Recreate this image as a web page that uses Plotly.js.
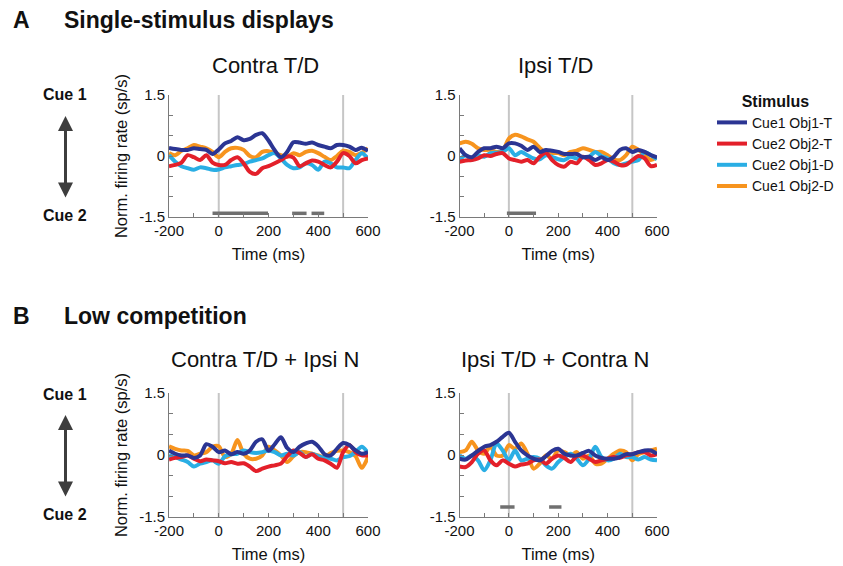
<!DOCTYPE html>
<html>
<head>
<meta charset="utf-8">
<script src="https://cdn.plot.ly/plotly-3.0.1.min.js"></script>
<style>html,body{margin:0;padding:0;background:#fff;}#chart{width:843px;height:566px;}</style>
</head>
<body>
<div id="chart"></div>
<script>
// ---------- data ----------
const time = [-200,-175,-150,-125,-100,-75,-50,-25,0,25,50,75,100,125,150,175,200,225,250,275,300,325,350,375,400,425,450,475,500,525,550,575,600];

const seriesNames = ["Cue1 Obj1-T","Cue2 Obj2-T","Cue2 Obj1-D","Cue1 Obj2-D"];
const panelTitles = ["Contra T/D","Ipsi T/D","Contra T/D + Ipsi N","Ipsi T/D + Contra N"];
const xTickVals = [-200,-100,0,100,200,300,400,500,600];
const xTickText = ["-200","","0","","200","","400","","600"];
const yTickVals = [-1.5,-1,-0.5,0,0.5,1,1.5];
const yTickText = ["-1.5","","","0","","","1.5"];
const eventTimes = [0,500];

// Panel A, Contra T/D
const a1_obj1T = [0.2,0.17,0.15,0.15,0.19,0.17,0.15,0.05,0.16,0.31,0.37,0.46,0.39,0.42,0.52,0.56,0.38,0.14,-0.03,0.1,0.34,0.33,0.3,0.33,0.27,0.23,0.19,0.27,0.27,0.23,0.15,0.2,0.13];
const a1_obj2T = [-0.25,-0.22,-0.16,0.02,-0.03,-0.1,0.02,-0.16,-0.22,-0.22,-0.1,-0.03,-0.18,-0.39,-0.44,-0.3,-0.25,-0.18,-0.1,-0.01,-0.04,-0.25,-0.18,-0.11,-0.14,-0.22,-0.28,-0.14,0.07,0,-0.18,-0.1,-0.06];
const a1_obj1D = [0.02,-0.14,-0.25,-0.3,-0.34,-0.28,-0.3,-0.34,-0.33,-0.28,-0.25,-0.22,-0.2,-0.14,-0.1,-0.06,0.02,0.07,-0.06,-0.22,-0.3,-0.28,-0.18,-0.22,-0.34,-0.14,-0.18,-0.28,-0.28,-0.3,-0.1,0.07,-0.06];
const a1_obj2D = [0.07,0.02,0.13,0.19,0.27,0.23,0.19,0.1,-0.03,0.1,0.19,0.2,0.15,0,-0.03,0.1,0.12,0.07,0.02,-0.02,0.07,0.02,0.1,0.13,0.07,-0.02,-0.1,0,0.13,0.1,0.02,0.08,0.19];

// Panel A, Ipsi T/D
const a2_obj1T = [0.19,0.02,-0.03,0.1,0.19,0.19,0.23,0.19,0.31,0.31,0.25,0.15,0.23,0.1,0.15,0.13,0.1,0.05,0.05,0.05,-0.03,-0.02,-0.1,-0.03,-0.1,-0.02,0.15,0.19,0.1,0.15,0.1,0.02,-0.03];
const a2_obj2T = [-0.14,-0.11,-0.1,-0.06,0.02,0,0.05,0.07,-0.06,-0.1,-0.14,-0.1,-0.18,-0.02,0.08,-0.1,-0.22,-0.26,-0.14,-0.18,-0.02,-0.1,-0.22,-0.18,-0.1,-0.14,-0.22,-0.22,-0.1,0,-0.06,-0.25,-0.22];
const a2_obj1D = [-0.1,0.02,-0.1,0.02,-0.02,0.07,0.08,0.1,0.19,0.02,0.1,0.02,-0.06,-0.08,0.02,-0.02,-0.08,-0.1,-0.02,-0.06,-0.03,-0.02,0.1,0,-0.06,-0.18,-0.22,-0.18,-0.14,-0.1,0.1,0.02,-0.08];
const a2_obj2D = [0.31,0.35,0.3,0.19,0.15,0.15,0.1,0.13,0.43,0.52,0.48,0.41,0.35,0.2,0.07,0.07,0.07,0.02,0.1,0.13,0.19,0.15,0.1,0.1,0.02,-0.08,-0.1,0.02,0.23,0.15,0.02,-0.1,-0.03];

// Panel B, Contra T/D + Ipsi N
const b1_obj1T = [0.11,0.03,-0.01,-0.01,-0.07,-0.01,0.26,0.2,0.07,0.11,0.02,0.07,0.03,0.11,0.32,0.38,0.1,0.26,0.43,0.17,0.07,0.2,0.28,0.32,0.21,0.02,-0.01,0.15,0.29,0.24,0.11,0.03,0.07];
const b1_obj2T = [-0.11,-0.07,-0.05,-0.01,-0.09,-0.15,-0.11,-0.13,-0.15,-0.2,-0.17,-0.21,-0.2,-0.28,-0.39,-0.33,-0.28,-0.25,-0.21,-0.03,0.11,0.05,-0.05,0.02,-0.09,-0.13,-0.21,-0.31,0.07,0.24,0.07,-0.01,-0.01];
const b1_obj1D = [-0.01,-0.05,-0.11,-0.17,-0.28,-0.21,-0.17,-0.13,-0.21,-0.03,0.02,0.03,0.11,0.07,0.05,0.07,0.11,0.07,-0.01,0.03,-0.01,0.07,-0.05,0.03,-0.03,-0.07,-0.09,-0.13,-0.05,-0.03,0.07,0.2,0.05];
const b1_obj2D = [0.21,0.15,0.11,0.1,-0.01,0.03,0.07,0.2,0.21,-0.05,0.03,0.36,0.03,-0.09,-0.09,-0.01,0.2,0.11,-0.01,-0.17,-0.03,0.07,0.07,0.03,-0.01,-0.05,0.05,0.1,0.11,0.07,-0.03,-0.31,-0.05];

// Panel B, Ipsi T/D + Contra N
const b2_obj1T = [-0.09,-0.11,-0.01,0.1,0.2,0.24,0.32,0.44,0.54,0.32,0.11,-0.01,-0.09,-0.13,-0.03,0.1,0.15,0.03,-0.01,-0.01,0.05,0.1,-0.01,-0.07,-0.09,-0.09,-0.05,0.02,0.02,0.07,0.11,0.11,0.03];
const b2_obj2T = [-0.28,-0.29,-0.17,0.03,0.11,-0.13,-0.25,-0.13,-0.21,-0.28,-0.23,-0.21,-0.13,-0.11,-0.21,-0.09,-0.01,-0.07,-0.17,-0.03,-0.01,-0.09,-0.17,-0.13,-0.09,-0.05,-0.07,-0.01,0.02,0.07,0.07,-0.01,0.02];
const b2_obj1D = [-0.01,-0.09,-0.01,-0.13,-0.37,-0.13,0.28,0.11,-0.13,0.11,-0.13,-0.09,-0.05,-0.09,-0.25,-0.33,-0.17,-0.05,0.03,-0.09,-0.25,-0.09,0.2,-0.05,-0.13,-0.09,0.03,-0.05,-0.05,-0.11,-0.05,-0.11,-0.13];
const b2_obj2D = [0.07,0.11,0.32,0.11,0.03,0.2,-0.01,-0.01,0.24,0.15,0.28,0.03,-0.33,-0.21,-0.01,-0.09,0.11,0.07,-0.01,0.07,-0.09,-0.01,-0.21,-0.21,-0.09,0.03,0.11,0.07,-0.13,0.02,0.07,0.11,0.15];

// significance bars: [start, end] in ms, and their level
const sigA1 = [[-25,198],[295,353],[373,424]];
const sigA2 = [[-8,110]];
const sigB1 = [];
const sigB2 = [[-35,23],[163,213]];
const sigLevel = [-1.41,-1.41,-1.26,-1.26];

// ---------- styles ----------
const colors = ["#2b3593","#e3202a","#2aaee4","#f7941e"];
const FONT = "Liberation Sans, Arial, Helvetica, sans-serif";
const W = 843, H = 566;
const px = v => v / W;
const py = v => 1 - v / H;

const panels = [
  {data:[a1_obj1T,a1_obj2T,a1_obj1D,a1_obj2D], sig:sigA1, xd:[169,368], yd:[95,217]},
  {data:[a2_obj1T,a2_obj2T,a2_obj1D,a2_obj2D], sig:sigA2, xd:[459.5,657], yd:[95,217]},
  {data:[b1_obj1T,b1_obj2T,b1_obj1D,b1_obj2D], sig:sigB1, xd:[169,368], yd:[393,517]},
  {data:[b2_obj1T,b2_obj2T,b2_obj1D,b2_obj2D], sig:sigB2, xd:[459.5,657], yd:[393,517]}
];

const traces = [];
const layout = {
  width: W, height: H,
  margin: {l:0, r:0, t:0, b:0},
  paper_bgcolor: "#fff", plot_bgcolor: "rgba(0,0,0,0)",
  font: {family: FONT, color: "#111"},
  showlegend: true,
  legend: {
    x: px(712), y: py(86), xanchor: "left", yanchor: "top",
    font: {size: 14, color: "#111"},
    title: {text: "<b>Stimulus</b>", side: "top center", font: {size: 16, color: "#111"}},
    tracegroupgap: 0, itemwidth: 30, bgcolor: "rgba(0,0,0,0)"
  },
  shapes: [], annotations: []
};

panels.forEach((p, i) => {
  const n = i + 1;
  const xa = n === 1 ? "x" : "x" + n;
  const ya = n === 1 ? "y" : "y" + n;
  const bx = [], by = [];
  p.sig.forEach(s => { bx.push(s[0], s[1], null); by.push(sigLevel[i], sigLevel[i], null); });
  if (bx.length) {
    traces.push({x: bx, y: by, xaxis: xa, yaxis: ya, mode: "lines", type: "scatter",
      line: {color: "#707070", width: 3.5}, showlegend: false, hoverinfo: "skip"});
  }
  [3,2,1,0].forEach(k => {
    traces.push({
      x: time, y: p.data[k], xaxis: xa, yaxis: ya, type: "scatter", mode: "lines",
      name: seriesNames[k], legendrank: k + 1,
      line: {color: colors[k], width: 4, shape: "spline", smoothing: 0.8},
      showlegend: i === 0
    });
  });
  const axBase = {
    showline: true, linecolor: "#7a7a7a", linewidth: 1,
    ticks: "inside", ticklen: 4, tickcolor: "#7a7a7a", tickwidth: 1,
    showgrid: false, zeroline: false, fixedrange: true,
    tickfont: {size: 15, color: "#111", family: FONT}
  };
  layout["xaxis" + (n === 1 ? "" : n)] = Object.assign({}, axBase, {
    domain: [px(p.xd[0]), px(p.xd[1])], anchor: ya, range: [-200, 600],
    tickmode: "array", tickvals: xTickVals, ticktext: xTickText,
    title: {text: "Time (ms)", font: {size: 16.5, color: "#111"}, standoff: 10}
  });
  layout["yaxis" + (n === 1 ? "" : n)] = Object.assign({}, axBase, {
    domain: [py(p.yd[1]), py(p.yd[0])], anchor: xa, range: [-1.5, 1.5],
    tickmode: "array", tickvals: yTickVals, ticktext: yTickText,
    title: {text: (n === 1 || n === 3) ? "Norm. firing rate (sp/s)" : "", font: {size: 16.5, color: "#111"}, standoff: 7}
  });
  eventTimes.forEach(t => {
    layout.shapes.push({type: "line", xref: xa, yref: ya + " domain", x0: t, x1: t, y0: 0, y1: 1,
      line: {color: "#c6c6c6", width: 2}, layer: "below"});
  });
  const cx = (p.xd[0] + p.xd[1]) / 2 - 3;
  layout.annotations.push({text: panelTitles[i], xref: "paper", yref: "paper",
    x: px(cx), y: py(i < 2 ? 65 : 359), xanchor: "center", yanchor: "middle", showarrow: false,
    font: {size: 22, color: "#111"}});
});

// section headers
[["A","Single-stimulus displays",20],["B","Low competition",316]].forEach(h => {
  layout.annotations.push({text: "<b>" + h[0] + "</b>", xref: "paper", yref: "paper", x: px(21), y: py(h[2]),
    xanchor: "center", yanchor: "middle", showarrow: false, font: {size: 23, color: "#111"}});
  layout.annotations.push({text: "<b>" + h[1] + "</b>", xref: "paper", yref: "paper", x: px(62), y: py(h[2]),
    xanchor: "left", yanchor: "middle", showarrow: false, font: {size: 23, color: "#111"}});
});

// cue labels with double-headed arrows
[[95,215,116,199],[394,514,415,498]].forEach(c => {
  layout.annotations.push({text: "<b>Cue 1</b>", xref: "paper", yref: "paper", x: px(65), y: py(c[0]),
    xanchor: "center", yanchor: "middle", showarrow: false, font: {size: 16, color: "#111"}});
  layout.annotations.push({text: "<b>Cue 2</b>", xref: "paper", yref: "paper", x: px(65), y: py(c[1]),
    xanchor: "center", yanchor: "middle", showarrow: false, font: {size: 16, color: "#111"}});
  layout.annotations.push({text: "", xref: "paper", yref: "paper", axref: "pixel", ayref: "pixel",
    x: px(65.5), y: py(c[2]), ax: 0, ay: c[3] - c[2], showarrow: true,
    arrowhead: 2, startarrowhead: 2, arrowside: "end+start", arrowsize: 1, startarrowsize: 1,
    arrowwidth: 3, arrowcolor: "#3d3d3d", standoff: 0, startstandoff: 0});
});

Plotly.newPlot("chart", traces, layout, {displayModeBar: false, staticPlot: true});
</script>
</body>
</html>
